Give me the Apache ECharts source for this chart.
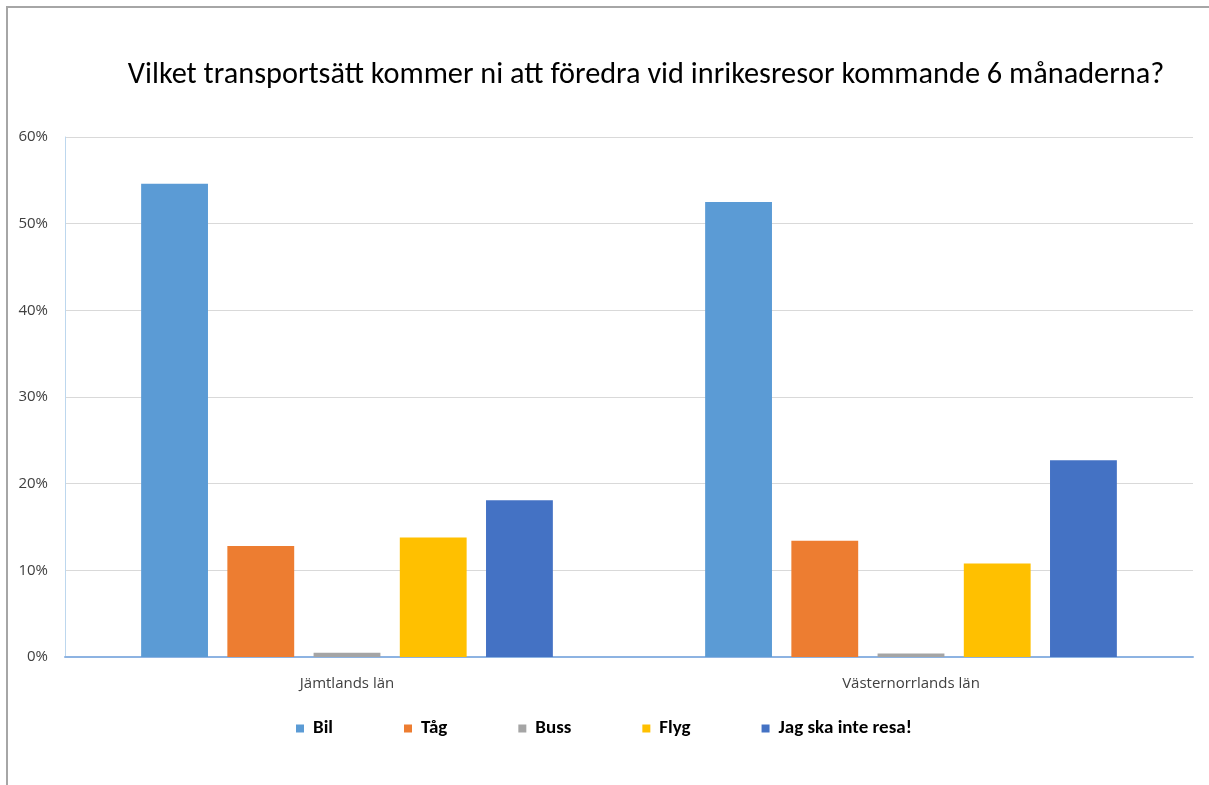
<!DOCTYPE html>
<html>
<head>
<meta charset="utf-8">
<script src="https://cdn.jsdelivr.net/npm/echarts@6/dist/echarts.min.js"></script>
<style>
html,body{margin:0;padding:0;background:#fff;}
#chart{width:1209px;height:785px;}
</style>
</head>
<body>
<div id="chart"></div>
<script>
const titleText = 'Vilket transportsätt kommer ni att föredra vid inrikesresor kommande 6 månaderna?';
const categories = ['Jämtlands län', 'Västernorrlands län'];
const seriesNames = ['Bil', 'Tåg', 'Buss', 'Flyg', 'Jag ska inte resa!'];
const bil = [54.6, 52.5];
const tag = [12.8, 13.4];
const buss = [0.5, 0.4];
const flyg = [13.8, 10.8];
const jagSkaInteResa = [18.1, 22.7];
const yTicks = [0, 10, 20, 30, 40, 50, 60];
const colors = ['#5B9BD5', '#ED7D31', '#A5A5A5', '#FFC000', '#4472C4'];

const seriesValues = [bil, tag, buss, flyg, jagSkaInteResa];
const font = 'Carlito, "Liberation Sans Narrow", "Open Sans", sans-serif';
const axisFont = '"Open Sans", "Noto Sans", sans-serif';

const chart = echarts.init(document.getElementById('chart'));
chart.setOption({
  animation: false,
  backgroundColor: '#fff',
  color: colors,
  title: {
    text: titleText,
    left: 641, textAlign: 'center', top: 55,
    textStyle: {fontFamily: font, fontSize: 30.3, fontWeight: 'normal', color: '#000'}
  },
  graphic: [{
    type: 'rect', shape: {x: 7, y: 7, width: 1220, height: 800},
    style: {fill: 'none', stroke: '#a6a6a6', lineWidth: 2}, silent: true
  }],
  legend: {
    data: seriesNames,
    left: 296, top: 719, padding: 0,
    icon: 'rect', itemWidth: 8, itemHeight: 8, itemGap: 71,
    textStyle: {fontFamily: font, fontSize: 19, fontWeight: 'bold', color: '#000', padding: [0,0,0,4]}
  },
  grid: {left: 65, right: 16, top: 137, bottom: 128, containLabel: false},
  xAxis: {
    type: 'category', data: categories,
    axisLine: {lineStyle: {color: '#8DB3E2', width: 2}},
    axisTick: {show: false},
    axisLabel: {fontFamily: axisFont, fontSize: 15, color: '#404040', margin: 19}
  },
  yAxis: {
    type: 'value', min: 0, max: 60, interval: 10,
    axisLine: {show: true, lineStyle: {color: '#BDD7EE', width: 1}},
    axisTick: {show: false},
    splitLine: {lineStyle: {color: '#D9D9D9', width: 1}},
    axisLabel: {fontFamily: axisFont, fontSize: 15, color: '#404040', margin: 17,
      formatter: v => yTicks.includes(v) ? v + '%' : ''}
  },
  series: seriesNames.map((n, i) => ({
    name: n, type: 'bar', data: seriesValues[i],
    barGap: '29%', barCategoryGap: '27%',
    itemStyle: {color: colors[i]}
  }))
});
</script>
</body>
</html>
